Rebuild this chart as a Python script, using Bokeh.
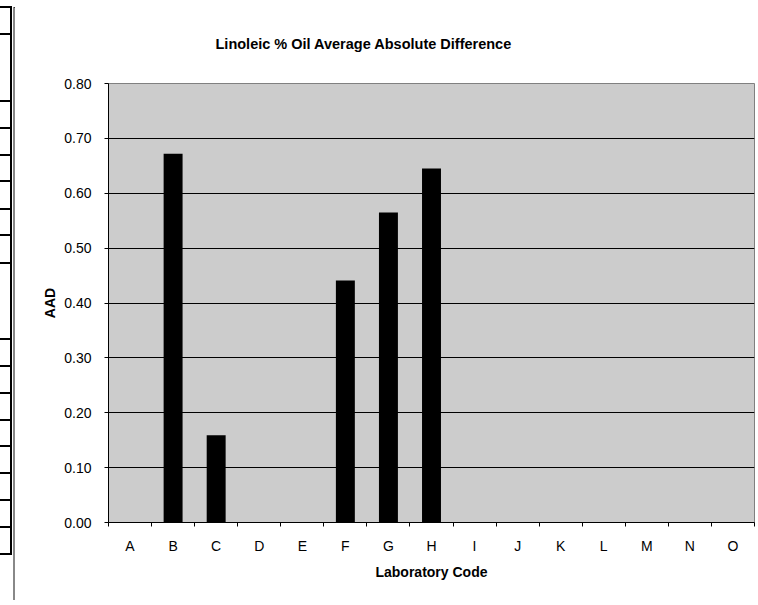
import numpy as np
from bokeh.plotting import figure
from bokeh.layouts import row
from bokeh.models import FixedTicker, PrintfTickFormatter, Range1d, Div
from bokeh.embed import file_html
from bokeh.resources import INLINE

# ---- data ----
labs = ["A", "B", "C", "D", "E", "F", "G", "H", "I", "J", "K", "L", "M", "N", "O"]
aad = [0.0, 0.672, 0.159, 0.0, 0.0, 0.441, 0.565, 0.645, 0.0, 0.0, 0.0, 0.0, 0.0, 0.0, 0.0]
y_ticks = [0.0, 0.1, 0.2, 0.3, 0.4, 0.5, 0.6, 0.7, 0.8]
title_text = "Linoleic % Oil Average Absolute Difference"
x_title = "Laboratory Code"
y_title = "AAD"

FONT = "Liberation Sans"
n = len(labs)
xc = [i + 0.5 for i in range(n)]
bounds = list(range(n + 1))
YMAX = 0.8

FW, FH = 646, 439          # frame size (px)
BL, BR, BT, BB = 93, 4, 83, 78
H = BT + FH + BB

p = figure(frame_width=FW, frame_height=FH,
           min_border_left=BL, min_border_right=BR, min_border_top=BT, min_border_bottom=BB,
           x_range=Range1d(0, n), y_range=Range1d(0, YMAX),
           output_backend="svg", toolbar_location=None, tools="")
p.background_fill_color = "#CCCCCC"
p.border_fill_color = "white"
p.outline_line_color = "#808080"
p.outline_line_width = 1

p.vbar(x=xc, top=aad, width=0.44, fill_color="black", line_color=None)

# title
p.title.text = title_text
p.title.align = "left"
p.title.offset = 107
p.title.standoff = 64
p.title.text_font = FONT
p.title.text_font_size = "14.5px"
p.title.text_font_style = "bold"
p.title.text_color = "black"

# x axis
xa = p.xaxis[0]
xa.ticker = FixedTicker(ticks=xc, minor_ticks=bounds)
xa.major_label_overrides = {x: l for x, l in zip(xc, labs)}
xa.major_tick_out = 0
xa.major_tick_in = 0
xa.minor_tick_out = 4
xa.minor_tick_in = 0
xa.minor_tick_line_color = "black"
xa.axis_line_color = "black"
xa.major_label_standoff = 11
xa.major_label_text_font = FONT
xa.major_label_text_font_size = "14px"
xa.major_label_text_color = "black"
xa.axis_label = x_title
xa.axis_label_text_font = FONT
xa.axis_label_text_font_size = "14px"
xa.axis_label_text_font_style = "bold"
xa.axis_label_text_color = "black"
xa.axis_label_standoff = 7

# y axis
ya = p.yaxis[0]
ya.ticker = FixedTicker(ticks=y_ticks)
ya.formatter = PrintfTickFormatter(format="%.2f")
ya.major_tick_out = 4
ya.major_tick_in = 0
ya.minor_tick_line_color = None
ya.axis_line_color = "black"
ya.major_tick_line_color = "black"
ya.major_label_standoff = 13
ya.major_label_text_font = FONT
ya.major_label_text_font_size = "14px"
ya.major_label_text_color = "black"
ya.axis_label = y_title
ya.axis_label_text_font = FONT
ya.axis_label_text_font_size = "14px"
ya.axis_label_text_font_style = "bold"
ya.axis_label_text_color = "black"
ya.axis_label_standoff = 3

p.xgrid.visible = False
p.ygrid.ticker = FixedTicker(ticks=y_ticks)
p.ygrid.grid_line_color = "black"
p.ygrid.grid_line_width = 1


def box(x, y, w, h, color):
    return (f'<div style="position:absolute;left:{x}px;top:{y}px;width:{w}px;'
            f'height:{h}px;background:{color};"></div>')


# left strip: sheet cell border decoration
cells = [7, 34, 101, 128, 155, 181, 209, 235, 263, 339, 366, 393, 420, 446, 473, 500, 527, 554]
left_html = f'<div style="position:relative;width:15px;height:{H}px;margin:0;padding:0;">'
for c in cells:
    left_html += box(0, c - 1, 12, 2, "#000000")
left_html += box(10, 6, 2, 554 - 6, "#000000")
left_html += box(13, 7, 2, H - 7, "#888888")
left_html += box(14, 7, 1, 1, "#333333")
left_html += '</div>'
left = Div(text=left_html, width=15, height=H, margin=0)

layout = row(left, p)
open("out.html", "w").write(file_html(layout, INLINE))
